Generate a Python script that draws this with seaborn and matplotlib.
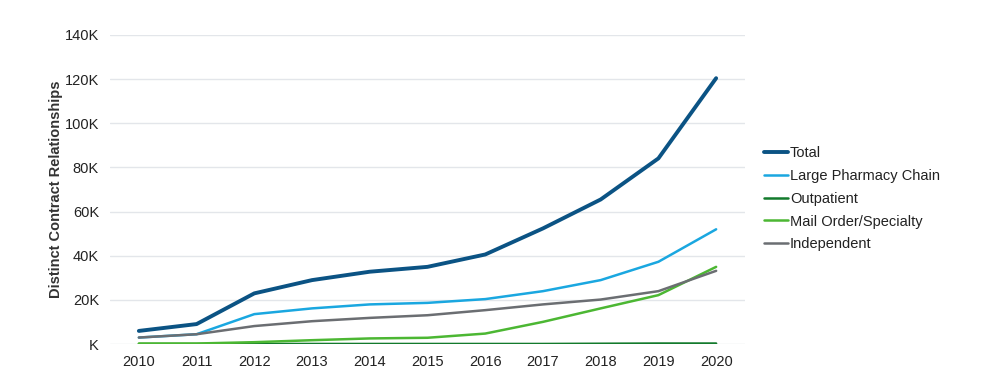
import numpy as np
import pandas as pd
import matplotlib
matplotlib.use('Agg')
import matplotlib.pyplot as plt
import seaborn as sns
from matplotlib.ticker import FuncFormatter

years = list(range(2010, 2021))
total = [6.0, 9.1, 23.0, 29.0, 32.8, 35.0, 40.6, 52.4, 65.5, 84.1, 120.4]
large_chain = [3.0, 4.5, 13.6, 16.2, 18.0, 18.7, 20.4, 24.0, 29.0, 37.3, 52.0]
outpatient = [0.1, 0.1, 0.1, 0.1, 0.1, 0.1, 0.1, 0.1, 0.2, 0.3, 0.3]
mail_order = [0.3, 0.3, 0.9, 1.8, 2.6, 2.9, 4.8, 10.1, 16.2, 22.2, 35.0]
independent = [3.0, 4.5, 8.2, 10.4, 11.9, 13.1, 15.4, 18.0, 20.2, 24.0, 33.2]

series = ['Total', 'Large Pharmacy Chain', 'Outpatient', 'Mail Order/Specialty', 'Independent']
colors = ['#0b5384', '#1aa7e0', '#137a2c', '#4cb733', '#6b6e72']
widths = [2.8, 1.8, 1.8, 1.8, 1.8]

rows = []
for name, vals in zip(series, [total, large_chain, outpatient, mail_order, independent]):
    for yr, v in zip(years, vals):
        rows.append({'Year': yr, 'Value': v * 1000, 'Series': name})
df = pd.DataFrame(rows)

sns.set_style('white')
plt.rcParams['font.family'] = ['Liberation Sans', 'DejaVu Sans']

fig = plt.figure(figsize=(10, 3.92), dpi=100)
ax = fig.add_axes([0.11, 0.122, 0.635, 0.789])

for name, c, w in zip(series, colors, widths):
    sns.lineplot(data=df[df['Series'] == name], x='Year', y='Value', color=c,
                 linewidth=w, label=name, ax=ax, zorder=3)

ax.set_xlim(2009.5, 2020.5)
ax.set_ylim(0, 140000)
ax.set_yticks(np.arange(0, 140001, 20000))
ax.set_xticks(years)
ax.yaxis.set_major_formatter(FuncFormatter(lambda v, p: 'K' if v == 0 else '%dK' % (v / 1000)))
ax.grid(axis='y', color='#e3e6ea', linewidth=1)
for s in ax.spines.values():
    s.set_visible(False)
ax.tick_params(axis='both', length=0, labelsize=10.5, colors='#222222', pad=8)
ax.set_xlabel('')
ax.set_ylabel('Distinct Contract Relationships', fontsize=10.5, fontweight='bold',
              color='#333333', labelpad=1)

leg = ax.legend(loc='center left', bbox_to_anchor=(1.01, 0.47), frameon=False,
                fontsize=10.5, handlelength=1.6, handletextpad=0.15, labelspacing=0.6)
for t in leg.get_texts():
    t.set_color('#222222')

fig.savefig('out.png', dpi=100)
